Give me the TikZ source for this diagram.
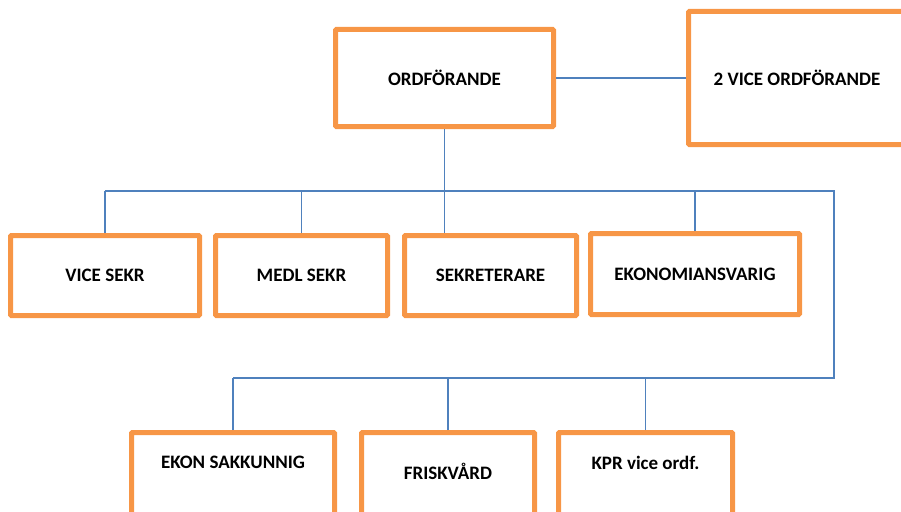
\documentclass[tikz,border=0pt]{standalone}
\usepackage{fontspec}
\setmainfont{Carlito}
\usetikzlibrary{positioning}
\definecolor{boxorange}{HTML}{F79646}
\definecolor{wireblue}{HTML}{4F81BD}
\tikzset{%
  post/.style={draw=boxorange,line width=5pt,rounded corners=1pt,inner sep=0pt,
    font=\fontsize{19}{21}\selectfont\bfseries},
  lbl/.style={inner sep=0pt,font=\fontsize{19}{21}\selectfont\bfseries},
  wire/.style={draw=wireblue,line width=1.8pt}
}
\begin{document}
\begin{tikzpicture}[x=1pt,y=-1pt]
  \useasboundingbox (0,0) rectangle (901,511);

  % top
  \node[post,minimum width=218,minimum height=97] (ordf) at (444.5,78) {ORDFÖRANDE};
  \node[post,minimum width=217,minimum height=133] (vice) at (797,78) {2 VICE ORDFÖRANDE};

  % second row
  \node[post,minimum width=189,minimum height=80] (vsekr) at (105,275.5) {VICE SEKR};
  \node[post,minimum width=172,minimum height=80] (medl) at (301.5,275.5) {MEDL SEKR};
  \node[post,minimum width=172,minimum height=80] (sekr) at (490.5,275.5) {SEKRETERARE};
  \node[post,minimum width=209,minimum height=81] (ekonom) at (695,274) {EKONOMIANSVARIG};

  % third row
  \node[post,minimum width=203,minimum height=100] (ekon) at (233,482.5) {};
  \node[post,minimum width=173,minimum height=100] (frisk) at (448,482.5) {};
  \node[post,minimum width=174,minimum height=100] (kpr) at (645.5,482.5) {};
  \node[lbl,below=26pt of ekon.north] (ekonT) {EKON SAKKUNNIG};
  \node[lbl,below=33pt of frisk.north] (friskT) {FRISKVÅRD};
  \node[lbl,below=25.5pt of kpr.north] (kprT) {KPR vice ordf.};

  % lines
  \coordinate (bus) at (0,190.7);
  \coordinate (bus2) at (0,377.7);
  \coordinate (turn) at (834,190.7);
  \draw[wire] (ordf) -- (vice);
  \draw[wire] (ordf.south) -- (ordf.south |- sekr.north);
  \draw[wire] (vsekr.north |- bus) -- (turn) |- (ekon.north |- bus2);
  \foreach \n in {vsekr,medl,ekonom}
    \draw[wire] (\n.north) -- (\n.north |- bus);
  \foreach \n in {ekon,frisk,kpr}
    \draw[wire] (\n.north) -- (\n.north |- bus2);
\end{tikzpicture}
\end{document}
